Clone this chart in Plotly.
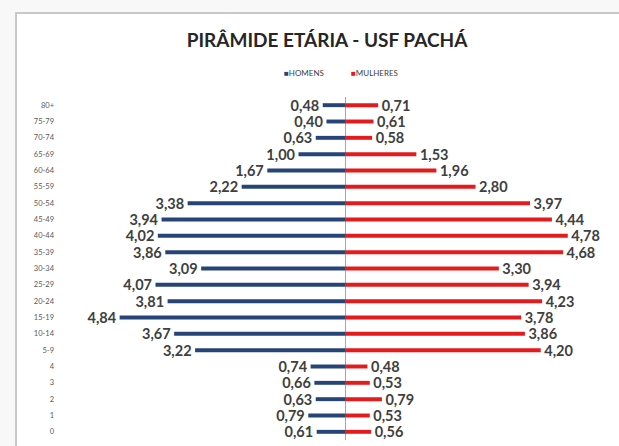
import plotly.graph_objects as go

ages = ["80+", "75-79", "70-74", "65-69", "60-64", "55-59", "50-54", "45-49", "40-44",
        "35-39", "30-34", "25-29", "20-24", "15-19", "10-14", "5-9", "4", "3", "2", "1", "0"]
homens = [0.48, 0.40, 0.63, 1.00, 1.67, 2.22, 3.38, 3.94, 4.02, 3.86, 3.09, 4.07, 3.81,
          4.84, 3.67, 3.22, 0.74, 0.66, 0.63, 0.79, 0.61]
mulheres = [0.71, 0.61, 0.58, 1.53, 1.96, 2.80, 3.97, 4.44, 4.78, 4.68, 3.30, 3.94, 4.23,
            3.78, 3.86, 4.20, 0.48, 0.53, 0.79, 0.53, 0.56]
series_names = ["HOMENS", "MULHERES"]
colors = ["#264478", "#E41A1C"]

W, H = 619, 446
ML, MR, MT, MB = 60, 0, 97, 6
PW, PH = W - ML - MR, H - MT - MB


def fmt(v):
    return f"{v:.2f}".replace(".", ",")


def px_x(p):
    return (p - ML) / PW


def px_y(p):
    return (H - MB - p) / PH


label_font = dict(family="Lato", size=14.5, color="#404040", weight="bold")
NB = "\u00a0"

fig = go.Figure()
fig.add_trace(go.Bar(
    y=ages, x=[-v for v in homens], orientation="h", name=series_names[0],
    marker=dict(color=colors[0], line=dict(width=0)),
    text=[fmt(v) + NB for v in homens], textposition="outside", constraintext="none",
    textfont=label_font, cliponaxis=False, hoverinfo="skip",
))
fig.add_trace(go.Bar(
    y=ages, x=mulheres, orientation="h", name=series_names[1],
    marker=dict(color=colors[1], line=dict(width=0)),
    text=[NB + fmt(v) for v in mulheres], textposition="outside", constraintext="none",
    textfont=label_font, cliponaxis=False, hoverinfo="skip",
))

# Frame of the chart area
shapes = [
    dict(type="rect", xref="paper", yref="paper",
         x0=px_x(16), x1=px_x(640), y0=px_y(470), y1=px_y(13),
         line=dict(color="#C8C8C8", width=2), fillcolor="white", layer="below"),
]

# Legend built from the series names
annotations = []
leg_x = [282, 349]
for name, col, lx in zip(series_names, colors, leg_x):
    annotations.append(dict(
        xref="paper", yref="paper", x=px_x(lx), y=px_y(73),
        xanchor="left", yanchor="middle", showarrow=False,
        text=f'<span style="color:{col}">■</span>{name}',
        font=dict(family="Lato", size=8, color="#404040"),
    ))

fig.update_layout(
    width=W, height=H,
    margin=dict(l=ML, r=MR, t=MT, b=MB, autoexpand=False),
    paper_bgcolor="#F8F8F8", plot_bgcolor="rgba(0,0,0,0)",
    barmode="relative", bargap=0.76,
    showlegend=False,
    title=dict(text="PIRÂMIDE ETÁRIA - USF PACHÁ", xref="container", yref="container",
               x=327 / W, y=1 - 40 / H, xanchor="center", yanchor="middle",
               font=dict(family="Lato", size=19, color="#262626", weight="bold")),
    xaxis=dict(range=[-6.12, 5.88], showgrid=False, showticklabels=False,
               zeroline=True, zerolinecolor="#A6A6A6", zerolinewidth=1,
               showline=False, fixedrange=True, automargin=False),
    yaxis=dict(categoryorder="array", categoryarray=ages, autorange="reversed",
               showgrid=False, zeroline=False, showline=False, ticks="",
               tickfont=dict(family="Lato", size=7.5, color="#595959"),
               ticklabelstandoff=5, fixedrange=True, automargin=False),
    shapes=shapes, annotations=annotations,
)

fig.write_html("out.html", post_script="document.body.style.margin='0';",
               config={"displayModeBar": False, "staticPlot": True})
